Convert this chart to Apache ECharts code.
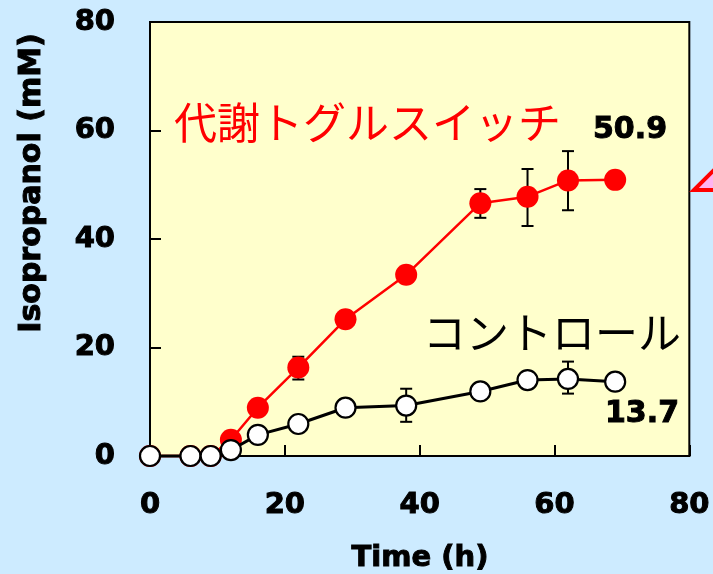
<!DOCTYPE html>
<html>
<head>
<meta charset="utf-8">
<script src="https://cdn.jsdelivr.net/npm/echarts@6/dist/echarts.min.js"></script>
<style>
html,body{margin:0;padding:0;background:#cdebff;}
#chart{width:713px;height:574px;}
</style>
</head>
<body>
<div id="chart"></div>
<script>
// ---- data ----
const times = [0, 6, 9, 12, 16, 22, 29, 38, 49, 56, 62, 69];
const toggleValues = [0, 0, 0, 3.0, 8.9, 16.3, 25.2, 33.4, 46.6, 47.8, 50.8, 50.9];
const controlValues = [0, 0, 0, 1.1, 3.9, 5.9, 8.9, 9.3, 11.9, 14.0, 14.2, 13.7];
// error bars: [time, low, high]
const toggleErrors = [[22, 14.1, 18.3], [49, 43.9, 49.2], [56, 42.4, 52.9], [62, 45.3, 56.2]];
const controlErrors = [[38, 6.3, 12.4], [62, 11.5, 17.4]];
const xTicks = [0, 20, 40, 60, 80];
const yTicks = [0, 20, 40, 60, 80];
const toggleName = '代謝トグルスイッチ';
const controlName = 'コントロール';
const toggleFinal = '50.9';
const controlFinal = '13.7';
const xTitle = 'Time (h)';
const yTitle = 'Isopropanol (mM)';

const NUM_FONT = 'DejaVu Sans';
const JP_FONT = 'Noto Sans CJK JP';

function pairs(xs, ys) { return xs.map((x, i) => [x, ys[i]]); }

function errRender(params, api) {
  const x = api.value(0);
  const lo = api.coord([x, api.value(1)]);
  const hi = api.coord([x, api.value(2)]);
  const cap = 6;
  const style = { stroke: '#000', lineWidth: 2 };
  return {
    type: 'group',
    children: [
      { type: 'line', shape: { x1: lo[0], y1: lo[1], x2: hi[0], y2: hi[1] }, style },
      { type: 'line', shape: { x1: lo[0] - cap, y1: lo[1], x2: lo[0] + cap, y2: lo[1] }, style },
      { type: 'line', shape: { x1: hi[0] - cap, y1: hi[1], x2: hi[0] + cap, y2: hi[1] }, style }
    ]
  };
}

const chart = echarts.init(document.getElementById('chart'), null, { renderer: 'canvas' });
const labelStyle = {
  color: '#000', fontFamily: NUM_FONT, fontWeight: 'bold', fontSize: 29,
  textBorderColor: '#000', textBorderWidth: 1
};

chart.setOption({
  backgroundColor: '#cdebff',
  animation: false,
  grid: {
    left: 150, right: 23, top: 22, bottom: 118,
    show: true, backgroundColor: '#ffffcc', borderColor: '#000', borderWidth: 2
  },
  xAxis: {
    type: 'value', min: xTicks[0], max: xTicks[xTicks.length - 1], interval: 20,
    axisLine: { show: true, lineStyle: { color: '#000', width: 2 } },
    axisTick: { show: true, inside: true, length: 11, lineStyle: { color: '#000', width: 2 } },
    splitLine: { show: false },
    axisLabel: Object.assign({ margin: 35 }, labelStyle)
  },
  yAxis: {
    type: 'value', min: yTicks[0], max: yTicks[yTicks.length - 1], interval: 20,
    axisLine: { show: true, lineStyle: { color: '#000', width: 2 } },
    axisTick: { show: true, inside: true, length: 11, lineStyle: { color: '#000', width: 2 } },
    splitLine: { show: false },
    axisLabel: Object.assign({ margin: 35 }, labelStyle)
  },
  series: [
    {
      type: 'custom', name: 'toggleErr', renderItem: errRender, data: toggleErrors, z: 1,
      clip: false, encode: { x: 0, y: [1, 2] }
    },
    {
      type: 'custom', name: 'controlErr', renderItem: errRender, data: controlErrors, z: 1,
      clip: false, encode: { x: 0, y: [1, 2] }
    },
    {
      type: 'line', name: toggleName, data: pairs(times, toggleValues), z: 2,
      symbol: 'circle', symbolSize: 22, showAllSymbol: true, clip: false,
      lineStyle: { color: '#ff0000', width: 2.5 },
      itemStyle: { color: '#ff0000', borderWidth: 0 }
    },
    {
      type: 'line', name: controlName, data: pairs(times, controlValues), z: 3,
      symbol: 'circle', symbolSize: 20, showAllSymbol: true, clip: false,
      lineStyle: { color: '#000', width: 3 },
      itemStyle: { color: '#ffffff', borderColor: '#000', borderWidth: 2.2 }
    }
  ],
  graphic: [
    {
      type: 'text', left: 174, top: 101, z: 10,
      style: { text: toggleName, fill: '#ff0000', font: 'normal 43px "' + JP_FONT + '"' }
    },
    {
      type: 'text', left: 423, top: 311, z: 10,
      style: { text: controlName, fill: '#000', font: 'normal 43px "' + JP_FONT + '"' }
    },
    {
      type: 'text', x: 667, y: 130, z: 10,
      style: { text: toggleFinal, fill: '#000', align: 'right', verticalAlign: 'middle',
        font: 'bold 30px "' + NUM_FONT + '"', stroke: '#000', lineWidth: 1 }
    },
    {
      type: 'text', x: 679, y: 414, z: 10,
      style: { text: controlFinal, fill: '#000', align: 'right', verticalAlign: 'middle',
        font: 'bold 30px "' + NUM_FONT + '"', stroke: '#000', lineWidth: 1 }
    },
    {
      type: 'text', x: 420, y: 558, z: 10,
      style: { text: xTitle, fill: '#000', align: 'center', verticalAlign: 'middle',
        font: 'bold 29px "' + NUM_FONT + '"', stroke: '#000', lineWidth: 1 }
    },
    {
      type: 'text', x: 32, y: 183, rotation: Math.PI / 2, z: 10,
      style: { text: yTitle, fill: '#000', align: 'center', verticalAlign: 'middle',
        font: 'bold 30px "' + NUM_FONT + '"', stroke: '#000', lineWidth: 1 }
    },
    {
      type: 'polygon', z: 10,
      shape: { points: [[694, 190], [740, 144], [740, 190]] },
      style: { fill: '#ffb3f0', stroke: '#ff0000', lineWidth: 4, lineJoin: 'miter' }
    }
  ]
});
</script>
</body>
</html>
